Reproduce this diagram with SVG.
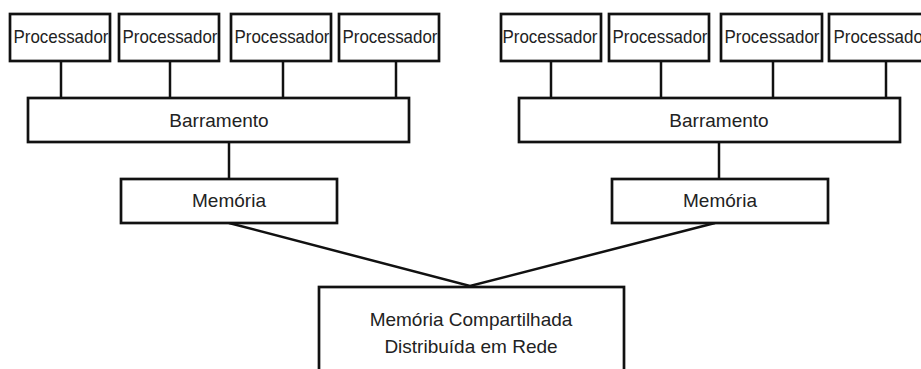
<svg xmlns="http://www.w3.org/2000/svg" width="921" height="369" viewBox="0 0 921 369">
  <style>
    .box { fill: #fff; stroke: #111; stroke-width: 2.7; }
    .wire { stroke: #111; stroke-width: 2.5; fill: none; }
    text { font-family: "Liberation Sans", Arial, sans-serif; font-size: 19px; fill: #222; text-anchor: middle; }
    .cpu { font-size: 19px; }
  </style>
  <rect width="921" height="369" fill="#fff"/>

  <!-- connectors -->
  <g id="connectors">
    <line class="wire" x1="61" y1="61" x2="61" y2="98"/>
    <line class="wire" x1="170" y1="61" x2="170" y2="98"/>
    <line class="wire" x1="283" y1="61" x2="283" y2="98"/>
    <line class="wire" x1="396" y1="61" x2="396" y2="98"/>
    <line class="wire" x1="551" y1="61" x2="551" y2="98"/>
    <line class="wire" x1="661" y1="61" x2="661" y2="98"/>
    <line class="wire" x1="773" y1="61" x2="773" y2="98"/>
    <line class="wire" x1="886" y1="61" x2="886" y2="98"/>
    <line class="wire" x1="229" y1="142" x2="229" y2="179"/>
    <line class="wire" x1="719" y1="142" x2="719" y2="179"/>
    <polyline class="wire" points="229,223 470,286 715,223"/>
  </g>

  <!-- left cluster -->
  <g id="cpu-l1"><rect class="box" x="10" y="14" width="100" height="47"/><text class="cpu" x="61" y="43" textLength="95" lengthAdjust="spacingAndGlyphs">Processador</text></g>
  <g id="cpu-l2"><rect class="box" x="119" y="14" width="100" height="47"/><text class="cpu" x="170" y="43" textLength="95" lengthAdjust="spacingAndGlyphs">Processador</text></g>
  <g id="cpu-l3"><rect class="box" x="231" y="14" width="100" height="47"/><text class="cpu" x="282" y="43" textLength="95" lengthAdjust="spacingAndGlyphs">Processador</text></g>
  <g id="cpu-l4"><rect class="box" x="339" y="14" width="100" height="47"/><text class="cpu" x="390" y="43" textLength="95" lengthAdjust="spacingAndGlyphs">Processador</text></g>
  <g id="bus-l"><rect class="box" x="28" y="98" width="381" height="44"/><text x="219" y="127">Barramento</text></g>
  <g id="mem-l"><rect class="box" x="121" y="179" width="216" height="44"/><text x="229" y="207">Memória</text></g>

  <!-- right cluster -->
  <g id="cpu-r1"><rect class="box" x="501" y="14" width="100" height="47"/><text class="cpu" x="550" y="43" textLength="95" lengthAdjust="spacingAndGlyphs">Processador</text></g>
  <g id="cpu-r2"><rect class="box" x="609" y="14" width="100" height="47"/><text class="cpu" x="660" y="43" textLength="95" lengthAdjust="spacingAndGlyphs">Processador</text></g>
  <g id="cpu-r3"><rect class="box" x="721" y="14" width="101" height="47"/><text class="cpu" x="772" y="43" textLength="95" lengthAdjust="spacingAndGlyphs">Processador</text></g>
  <g id="cpu-r4"><rect class="box" x="829" y="14" width="100" height="47"/><text class="cpu" x="881" y="43" textLength="95" lengthAdjust="spacingAndGlyphs">Processador</text></g>
  <g id="bus-r"><rect class="box" x="519" y="98" width="381" height="44"/><text x="719" y="127">Barramento</text></g>
  <g id="mem-r"><rect class="box" x="612" y="179" width="216" height="44"/><text x="720" y="207">Memória</text></g>

  <!-- shared memory -->
  <g id="dsm"><rect class="box" x="319" y="287" width="305" height="100"/>
    <text x="471" y="326">Memória Compartilhada</text>
    <text x="471" y="353">Distribuída em Rede</text>
  </g>
</svg>
